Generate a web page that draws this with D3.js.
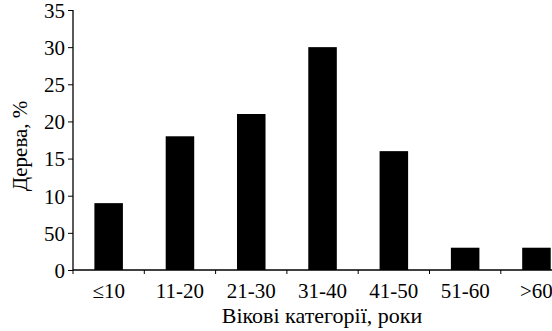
<!DOCTYPE html>
<html>
<head>
<meta charset="utf-8">
<script src="https://cdn.jsdelivr.net/npm/d3@7"></script>
<style>
  body { margin: 0; background: #fff; overflow: hidden; }
  text { font-family: "Liberation Serif", "Times New Roman", serif; fill: #000; }
</style>
</head>
<body>
<svg width="552" height="331"></svg>
<script>
// values
var categories = ["≤10", "11-20", "21-30", "31-40", "41-50", "51-60", ">60"];
var percents = [9, 18, 21, 30, 16, 3, 3];
var yTicks = [0, 5, 10, 15, 20, 25, 30, 35];
var yTickLabels = ["0", "50", "10", "15", "20", "25", "30", "35"]; // "50" is as printed in the source

var svg = d3.select("svg");

// plot area (right side is cut off in the original)
var plotLeft = 73, plotTop = 10, plotBottom = 270;
var step = 71.3;
var plotW = step * categories.length;

var x = d3.scaleBand().domain(categories).range([plotLeft, plotLeft + plotW]).paddingInner(0.6).paddingOuter(0.3);
var y = d3.scaleLinear().domain([0, 35]).range([plotBottom, plotTop]);

// bars
svg.selectAll(".bar")
  .data(percents)
  .enter().append("rect")
    .attr("class", "bar")
    .attr("x", function(d, i) { return x(categories[i]); })
    .attr("y", function(d) { return y(d); })
    .attr("width", x.bandwidth())
    .attr("height", function(d) { return plotBottom - y(d); })
    .attr("fill", "#000");

// y axis
var yAxis = svg.append("g")
  .attr("transform", "translate(" + plotLeft + ",0)")
  .call(d3.axisLeft(y).tickValues(yTicks).tickSize(5).tickPadding(3)
    .tickFormat(function(d, i) { return yTickLabels[i]; }));
yAxis.select(".domain").attr("d", "M0," + plotTop + "V" + plotBottom).attr("stroke-width", 1.3);
yAxis.selectAll("line").attr("stroke-width", 1);
yAxis.selectAll("text").style("font-size", "21px").attr("dy", "0.35em");

// x axis: ticks at band boundaries
var xBounds = d3.range(categories.length + 1).map(function(i) { return plotLeft + i * step; });
var xAxis = svg.append("g");
xAxis.append("line")
  .attr("x1", plotLeft).attr("x2", plotLeft + plotW)
  .attr("y1", plotBottom).attr("y2", plotBottom)
  .attr("stroke", "#000").attr("stroke-width", 1.3);
xAxis.selectAll(".xt")
  .data(xBounds)
  .enter().append("line")
    .attr("class", "xt")
    .attr("x1", function(d) { return d; }).attr("x2", function(d) { return d; })
    .attr("y1", plotBottom).attr("y2", plotBottom + 4)
    .attr("stroke", "#000").attr("stroke-width", 1);
xAxis.selectAll(".xl")
  .data(categories)
  .enter().append("text")
    .attr("class", "xl")
    .attr("x", function(d) { return x(d) + x.bandwidth() / 2; })
    .attr("y", 298)
    .attr("text-anchor", "middle")
    .style("font-size", "21px")
    .text(function(d) { return d; });

// axis titles
svg.append("text")
  .attr("x", 322).attr("y", 323)
  .attr("text-anchor", "middle")
  .style("font-size", "22px")
  .text("Вікові категорії, роки");

svg.append("text")
  .attr("transform", "translate(27,146) rotate(-90)")
  .attr("text-anchor", "middle")
  .style("font-size", "21px")
  .text("Дерева, %");
</script>
</body>
</html>
